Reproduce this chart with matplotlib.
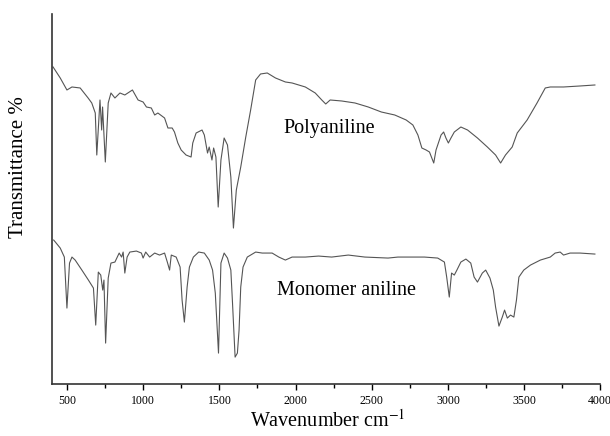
import numpy as np
import matplotlib
matplotlib.use("Agg")
import matplotlib.pyplot as plt
from matplotlib.ticker import MultipleLocator

plt.rcParams['font.family'] = ['Liberation Serif', 'DejaVu Serif']
plt.rcParams['mathtext.fontset'] = 'stix'

# wavenumber (cm-1) and transmittance (a.u.)
poly_wn = [408, 455, 499, 532, 586, 638, 662, 685, 695, 716, 727, 733, 751, 770, 788,
           814, 847, 879, 929, 966, 999, 1021, 1053, 1075, 1096, 1140, 1162, 1190, 1205,
           1227, 1249, 1281, 1314, 1325, 1347, 1386, 1401, 1422, 1433, 1451, 1462, 1477,
           1492, 1510, 1531, 1553, 1575, 1592, 1611, 1640, 1673, 1705, 1738, 1770, 1814,
           1868, 1933, 1977, 2064, 2129, 2172, 2198, 2227, 2303, 2390, 2477, 2563, 2651,
           2726, 2770, 2803, 2829, 2857, 2879, 2907, 2922, 2955, 2972, 2987, 3003, 3020,
           3042, 3085, 3129, 3194, 3259, 3313, 3346, 3378, 3422, 3455, 3520, 3585, 3639,
           3672, 3759, 3867, 3965]
poly_t = [317, 306, 294, 297, 296, 286, 281, 271, 229, 284, 254, 277, 222, 281, 291,
          286, 291, 289, 294, 284, 282, 277, 276, 269, 271, 266, 256, 256, 252,
          241, 234, 229, 227, 241, 251, 254, 249, 231, 237, 224, 236, 227,
          177, 224, 246, 239, 207, 156, 194, 217, 247, 274, 304, 310, 311,
          306, 302, 301, 297, 291, 284, 280, 284, 283, 281, 277, 272, 269,
          264, 259, 249, 236, 234, 232, 221, 234, 249, 252, 246, 241, 246,
          252, 257, 254, 246, 237, 229, 221, 229, 237, 251, 264, 281, 296,
          297, 297, 298, 299]

mono_wn = [412, 423, 455, 482, 499, 516, 532, 553, 597, 640, 673, 688, 705, 721, 734,
           742, 753, 770, 788, 814, 842, 858, 868, 879, 894, 912, 955, 988, 999, 1016,
           1042, 1075, 1107, 1140, 1158, 1173, 1184, 1216, 1242, 1255, 1270, 1288, 1303,
           1329, 1364, 1401, 1433, 1455, 1473, 1494, 1510, 1531, 1553, 1575, 1586, 1603,
           1618, 1629, 1640, 1655, 1683, 1738, 1781, 1846, 1890, 1933, 1977, 2064, 2151,
           2237, 2346, 2455, 2607, 2672, 2846, 2933, 2977, 2992, 3009, 3024, 3042, 3059,
           3085, 3118, 3150, 3172, 3194, 3226, 3248, 3276, 3298, 3313, 3335, 3357, 3372,
           3390, 3411, 3433, 3450, 3466, 3498, 3542, 3607, 3672, 3704, 3737, 3759, 3802,
           3867, 3965]
mono_t = [144, 142, 136, 127, 76, 121, 127, 124, 114, 104, 96, 59, 112, 109, 94,
          104, 41, 106, 121, 122, 131, 127, 132, 111, 127, 132, 133, 131, 126, 132,
          127, 131, 129, 131, 122, 114, 129, 127, 117, 84, 62, 97, 117,
          127, 132, 131, 124, 114, 91, 31, 121, 131, 126, 114, 81, 27,
          31, 54, 97, 117, 127, 132, 131, 131, 127, 124, 127, 127, 128,
          127, 129, 127, 126, 127, 127, 126, 122, 107, 87, 111, 109, 114,
          122, 125, 121, 107, 102, 111, 114, 106, 94, 77, 58, 67, 74,
          66, 69, 67, 84, 107, 114, 119, 124, 127, 131, 132, 129, 131,
          131, 130]

fig = plt.figure(figsize=(6.10, 4.36), dpi=100)
ax = fig.add_axes([0.085, 0.119, 0.899, 0.849])

ax.plot(poly_wn, poly_t, color='#555555', lw=0.8)
ax.plot(mono_wn, mono_t, color='#555555', lw=0.8)

ax.text(2220, 256, 'Polyaniline', fontsize=14.5, ha='center', va='center')
ax.text(2335, 94, 'Monomer aniline', fontsize=14.5, ha='center', va='center')

ax.set_xlim(400, 4000)
ax.set_ylim(0, 370)
ax.xaxis.set_major_locator(MultipleLocator(500))
ax.xaxis.set_minor_locator(MultipleLocator(250))
ax.set_yticks([])
ax.tick_params(axis='x', which='major', direction='out', length=4, width=1, labelsize=8.5, pad=4)
ax.tick_params(axis='x', which='minor', direction='out', length=3, width=1)
for s in ['top', 'right']:
    ax.spines[s].set_visible(False)
for s in ['left', 'bottom']:
    ax.spines[s].set_linewidth(1.2)
    ax.spines[s].set_color('#333333')

fig.text(0.03, 0.617, 'Transmittance %', rotation=90, fontsize=15, ha='center', va='center')
fig.text(0.538, 0.035, 'Wavenumber cm$^{-1}$', fontsize=14.5, ha='center', va='center')

fig.savefig('out.png', dpi=100)
